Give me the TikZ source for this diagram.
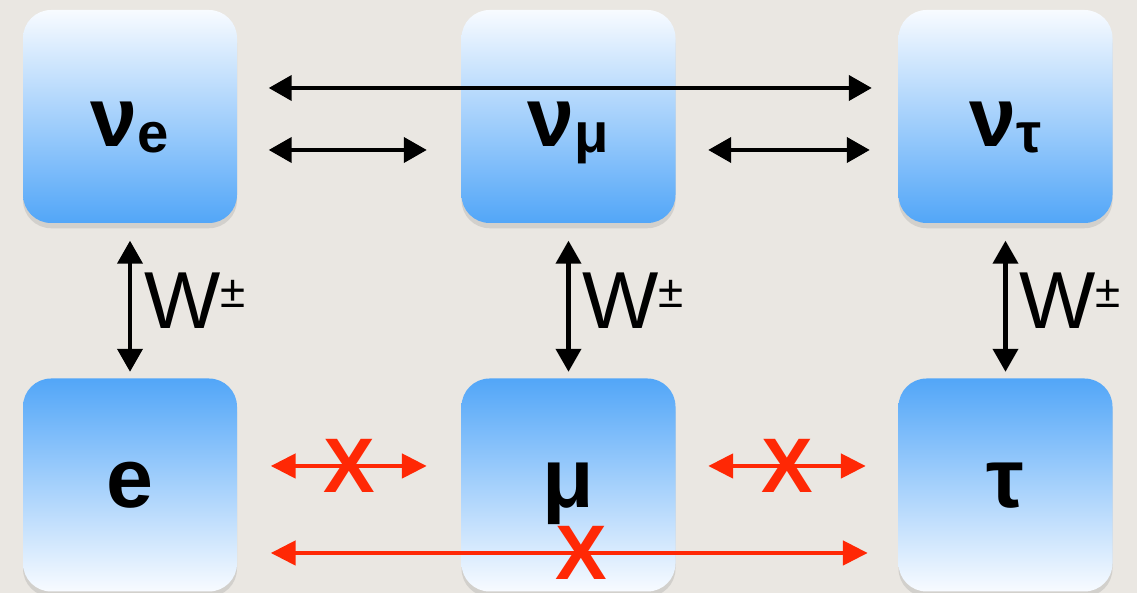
\documentclass[tikz,border=0pt]{standalone}
\usepackage{fontspec}
\setmainfont{Liberation Sans}
\usetikzlibrary{arrows.meta, positioning, shadows}
\definecolor{paper}{RGB}{234,231,226}
\definecolor{boxtop}{RGB}{248,251,255}
\definecolor{boxbot}{RGB}{82,166,248}
\definecolor{forbidred}{RGB}{255,40,5}
\newcommand{\flav}[2]{#1\raisebox{-0.6mm}{\fontsize{16}{16}\selectfont #2}}

\begin{document}
\begin{tikzpicture}[
        flavour/.style={rectangle, rounded corners=8pt, minimum width=2.14cm, minimum height=2.13cm,
                        inner sep=0pt, text depth=0pt, font=\fontsize{24}{24}\selectfont\bfseries,
                        drop shadow={opacity=0.22, shadow xshift=0pt, shadow yshift=-1.5pt}},
        nurow/.style={flavour, top color=boxtop, bottom color=boxbot, text height=17pt},
        leprow/.style={flavour, top color=boxbot, bottom color=boxtop, text height=13pt},
        mix/.style={{Triangle[length=2.3mm, width=2.5mm]}-{Triangle[length=2.3mm, width=2.5mm]}, line width=1.15pt, black},
        nomix/.style={{Triangle[length=2.5mm, width=2.4mm]}-{Triangle[length=2.5mm, width=2.4mm]}, line width=1.4pt, forbidred},
        cross/.style={text=forbidred, inner sep=0pt, font=\fontsize{22}{22}\selectfont\bfseries},
        wlabel/.style={right, inner sep=0pt, xshift=1.2mm, font=\fontsize{23}{23}\selectfont}
    ]
        \path[use as bounding box, fill=paper] (0,0) rectangle (11.37,-5.93);

        % neutrinos
        \node[nurow] (ve) at (1.30,-1.165) {\flav{ν}{e}};
        \node[nurow] (vm) at (5.685,-1.165) {\flav{ν}{μ}};
        \node[nurow] (vt) at (10.055,-1.165) {\flav{ν}{τ}};
        % charged leptons
        \node[leprow] (e) at (1.30,-4.85) {e};
        \node[leprow] (mu) at (5.685,-4.85) {μ};
        \node[leprow] (tau) at (10.055,-4.85) {τ};

        \draw[mix, shorten <=3.1mm, shorten >=2.6mm] ([yshift=2.85mm]ve.east) -- ([yshift=2.85mm]vt.west);
        \draw[mix, shorten <=3.1mm, shorten >=3.4mm] ([yshift=-3.35mm]ve.east) -- ([yshift=-3.35mm]vm.west);
        \draw[mix, shorten <=3.2mm, shorten >=2.8mm] ([yshift=-3.35mm]vm.east) -- ([yshift=-3.35mm]vt.west);

        \draw[mix, shorten <=1.7mm, shorten >=0.6mm] (ve) -- (e)
            node[midway, wlabel] {W\raisebox{6pt}{\fontsize{13}{13}\selectfont ±}};
        \draw[mix, shorten <=1.7mm, shorten >=0.6mm] (vm) -- (mu)
            node[midway, wlabel] {W\raisebox{6pt}{\fontsize{13}{13}\selectfont ±}};
        \draw[mix, shorten <=1.7mm, shorten >=0.6mm] (vt) -- (tau)
            node[midway, wlabel] {W\raisebox{6pt}{\fontsize{13}{13}\selectfont ±}};

        \draw[nomix, shorten <=3.3mm, shorten >=3.4mm] ([yshift=1.9mm]e.east) -- ([yshift=1.9mm]mu.west)
            node[midway, cross] {X};
        \draw[nomix, shorten <=3.2mm, shorten >=3.2mm] ([yshift=1.9mm]mu.east) -- ([yshift=1.9mm]tau.west)
            node[midway, cross] {X};
        \draw[nomix, shorten <=3.3mm, shorten >=3.0mm] ([yshift=-6.8mm]e.east) -- ([yshift=-6.8mm]tau.west)
            node[pos=0.52, cross] {X};
    \end{tikzpicture}
\end{document}
